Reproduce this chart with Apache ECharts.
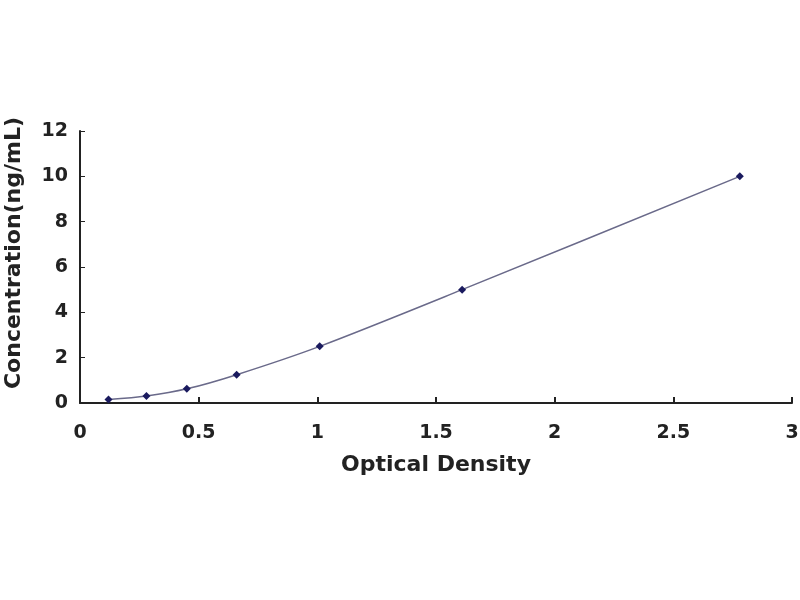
<!DOCTYPE html>
<html>
<head>
<meta charset="utf-8">
<script src="https://cdn.jsdelivr.net/npm/echarts@6/dist/echarts.min.js"></script>
<style>
html,body{margin:0;padding:0;background:#fff;}
#chart{width:800px;height:600px;}
</style>
</head>
<body>
<div id="chart"></div>
<script>
var opticalDensity = [0.12, 0.28, 0.45, 0.66, 1.01, 1.61, 2.78];
var concentration = [0.156, 0.312, 0.625, 1.25, 2.5, 5, 10];

var points = opticalDensity.map(function (x, i) { return [x, concentration[i]]; });

var labelFont = {
    fontFamily: 'DejaVu Sans',
    fontWeight: 'bold',
    fontSize: 19,
    color: '#222'
};
var nameFont = {
    fontFamily: 'DejaVu Sans',
    fontWeight: 'bold',
    fontSize: 22,
    color: '#222'
};

var option = {
    animation: false,
    backgroundColor: '#fff',
    grid: {
        left: 80,
        right: 8,
        top: 131,
        bottom: 197,
        outerBoundsMode: 'none',
        containLabel: false
    },
    xAxis: {
        type: 'value',
        min: 0,
        max: 3,
        interval: 0.5,
        name: 'Optical Density',
        nameLocation: 'middle',
        nameGap: 51,
        nameTextStyle: nameFont,
        axisLine: { lineStyle: { color: '#222', width: 2 } },
        axisTick: { inside: true, length: 6, lineStyle: { color: '#222', width: 2 } },
        axisLabel: Object.assign({ margin: 21 }, labelFont),
        splitLine: { show: false }
    },
    yAxis: {
        type: 'value',
        min: 0,
        max: 12,
        interval: 2,
        name: 'Concentration(ng/mL)',
        nameLocation: 'middle',
        nameGap: 55,
        nameTextStyle: Object.assign({ padding: [0, 0, 0, 28] }, nameFont),
        axisLine: { show: true, lineStyle: { color: '#222', width: 2 } },
        axisTick: { show: true, inside: true, length: 5, lineStyle: { color: '#222', width: 1 } },
        axisLabel: Object.assign({ margin: 12 }, labelFont),
        splitLine: { show: false }
    },
    series: [
        {
            type: 'line',
            data: points,
            smooth: 0.3,
            symbol: 'diamond',
            symbolSize: 8,
            itemStyle: { color: '#1a1a5e' },
            lineStyle: { color: '#6a6a8a', width: 1.5 }
        }
    ]
};

var myChart = echarts.init(document.getElementById('chart'));
myChart.setOption(option);
</script>
</body>
</html>
